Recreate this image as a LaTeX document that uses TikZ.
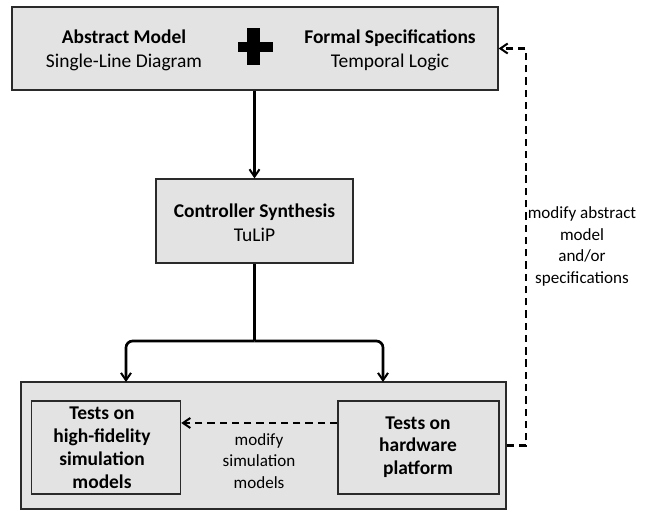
\documentclass[tikz,border=0pt]{standalone}
\usepackage{fontspec}
\setmainfont{Carlito}
\usetikzlibrary{arrows.meta,positioning}

\definecolor{boxgray}{HTML}{E3E3E3}
\definecolor{edgegray}{HTML}{2A2A2A}

\tikzset{
  panel/.style={draw=edgegray, line width=0.9pt, fill=boxgray, inner sep=0pt},
  inner panel/.style={draw=edgegray, line width=1.1pt, fill=boxgray, inner sep=0pt},
  big text/.style={align=center, font=\fontsize{14.6}{18}\selectfont, inner sep=0pt},
  small text/.style={align=center, font=\fontsize{12.8}{16.2}\selectfont, inner sep=0pt},
  barb/.style={-{Straight Barb[length=5.5pt,width=7.5pt,line width=1.5pt]}},
  flow/.style={line width=2pt, barb},
  feedback/.style={line width=1.7pt, dash pattern=on 5.5pt off 3.7pt, barb},
}

\begin{document}
\begin{tikzpicture}[x=0.75pt, y=-0.75pt]
  \useasboundingbox (0,0) rectangle (645,511);

  % top block: model + specifications
  \node[panel, minimum width=364.5pt, minimum height=62.25pt] (top) at (255,48.5) {};
  \node[big text] (model) at (124,50) {\textbf{Abstract Model}\\Single-Line Diagram};
  \node[big text] (spec) at (390,50) {\textbf{Formal Specifications}\\Temporal Logic};
  \fill (247,28) rectangle (260,65);
  \fill (238,42) rectangle (273,52);

  % synthesis block
  \node[panel, minimum width=147.75pt, minimum height=63pt] (ctrl) at (254.5,221) {};
  \node[big text] (ctrltext) at (254.5,223) {\textbf{Controller Synthesis}\\TuLiP};

  % test block with its two parts
  \node[panel, minimum width=363.75pt, minimum height=95.25pt] (tests) at (263.5,445.5) {};
  \node[inner panel, minimum width=111.75pt, minimum height=69.75pt] (sim) at (106,447.5) {};
  \node[big text, font=\bfseries\fontsize{14.6}{17.2}\selectfont] (simtext) at (102,447.5) {Tests on\\high-fidelity\\simulation\\models};
  \node[inner panel, minimum width=120.75pt, minimum height=69.75pt] (hw) at (418.5,447.5) {};
  \node[big text, font=\bfseries\fontsize{14.6}{17}\selectfont] (hwtext) at (418,447) {Tests on\\hardware\\platform};

  % connectors
  \draw[flow] (top.south -| ctrl.north) -- (ctrl.north);

  \coordinate (split) at (254.5,341);
  \coordinate (inL) at (126,382);
  \coordinate (inR) at (383,382);
  \draw[line width=2pt] (ctrl.south) -- (split);
  \draw[flow, rounded corners=5pt] (split) -| (inL);
  \draw[flow, rounded corners=5pt] (split) -| (inR);

  \draw[feedback] ([yshift=18.4pt]hw.west) -- ([yshift=18.4pt]sim.east);
  \node[small text] (simlabel) at (259,461) {modify\\simulation\\models};

  \coordinate (loop) at (526,0);
  \draw[feedback] (tests.east) -- (tests.east -| loop) -- (top.east -| loop) -- (top.east);
  \node[small text] (looplabel) at (582,246.5) {modify abstract\\model\\and/or\\specifications};
\end{tikzpicture}
\end{document}
